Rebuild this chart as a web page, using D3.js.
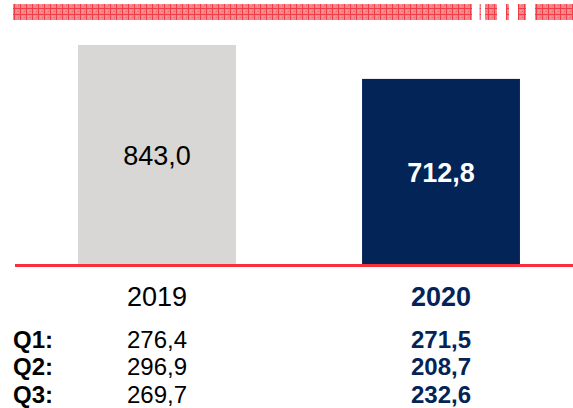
<!DOCTYPE html>
<html>
<head>
<meta charset="utf-8">
<script src="https://cdn.jsdelivr.net/npm/d3@7"></script>
<style>
  body { margin: 0; background: #fff; }
  svg { display: block; font-family: Arial, "Liberation Sans", sans-serif; }
</style>
</head>
<body>
<div id="chart"></div>
<script>
// chart data
const years = ["2019", "2020"];
const totals = [843.0, 712.8];
const quarters = ["Q1:", "Q2:", "Q3:"];
const q2019 = [276.4, 296.9, 269.7];
const q2020 = [271.5, 208.7, 232.6];

// decorative header band pieces (x start, x end)
const bandPieces = [[13, 472], [479.5, 481], [485, 497], [506, 509], [518, 526], [535, 573]];

const width = 573, height = 408;
const navy = "#022456";
const fmt = v => v.toFixed(1).replace(".", ",");

const svg = d3.select("#chart").append("svg")
    .attr("width", width)
    .attr("height", height);

// textured pattern for the top band
const defs = svg.append("defs");
const pat = defs.append("pattern")
    .attr("id", "hatch")
    .attr("patternUnits", "userSpaceOnUse")
    .attr("width", 6)
    .attr("height", 6);
pat.append("rect").attr("width", 6).attr("height", 6).attr("fill", "#f7858b");
pat.append("rect").attr("x", 2).attr("width", 1).attr("height", 6).attr("fill", "#f23c46");
pat.append("rect").attr("y", 2).attr("width", 6).attr("height", 1).attr("fill", "#f23c46");
pat.append("rect").attr("x", 4).attr("y", 4).attr("width", 1).attr("height", 1).attr("fill", "#fba6aa");
pat.append("rect").attr("x", 0).attr("y", 5).attr("width", 1).attr("height", 1).attr("fill", "#f4626a");

svg.append("g").selectAll("rect")
    .data(bandPieces)
    .join("rect")
    .attr("x", d => d[0])
    .attr("y", 4)
    .attr("width", d => d[1] - d[0])
    .attr("height", 16)
    .attr("fill", "url(#hatch)");

const baseY = 264.5;
const x = d3.scaleBand()
    .domain(years)
    .range([15, 583])
    .paddingInner(0.444)
    .paddingOuter(0.222);

const y = d3.scaleLinear()
    .domain([0, 843])
    .range([baseY, 45]);

const barColors = ["#d9d7d5", navy];
const data = years.map((yr, i) => ({ year: yr, value: totals[i], i }));

svg.append("g").selectAll("rect")
    .data(data)
    .join("rect")
    .attr("x", d => x(d.year))
    .attr("y", d => y(d.value))
    .attr("width", x.bandwidth())
    .attr("height", d => y(0) - y(d.value))
    .attr("fill", d => barColors[d.i]);

// value labels inside bars
svg.append("g").selectAll("text")
    .data(data)
    .join("text")
    .attr("x", d => x(d.year) + x.bandwidth() / 2)
    .attr("y", d => (y(d.value) + y(0)) / 2 + 10)
    .attr("text-anchor", "middle")
    .style("font-size", "27px")
    .style("font-weight", d => d.i === 1 ? "bold" : "normal")
    .style("fill", d => d.i === 1 ? "#fff" : "#000")
    .text(d => fmt(d.value));

// red baseline
svg.append("line")
    .attr("x1", 15).attr("x2", width)
    .attr("y1", 265.5).attr("y2", 265.5)
    .attr("stroke", "#f5303a")
    .attr("stroke-width", 3);

// year labels
svg.append("g").selectAll("text")
    .data(data)
    .join("text")
    .attr("x", d => x(d.year) + x.bandwidth() / 2)
    .attr("y", 305.5)
    .attr("text-anchor", "middle")
    .style("font-size", "27px")
    .style("font-weight", d => d.i === 1 ? "bold" : "normal")
    .style("fill", d => d.i === 1 ? navy : "#000")
    .text(d => d.year);

// quarterly table
const rowY = d3.scalePoint().domain(quarters).range([348, 402.5]);

svg.append("g").selectAll("text")
    .data(quarters)
    .join("text")
    .attr("x", 13)
    .attr("y", d => rowY(d))
    .style("font-size", "24px")
    .style("font-weight", "bold")
    .style("fill", "#000")
    .text(d => d);

[q2019, q2020].forEach((vals, i) => {
    svg.append("g").selectAll("text")
        .data(vals)
        .join("text")
        .attr("x", x(years[i]) + x.bandwidth() / 2)
        .attr("y", (d, j) => rowY(quarters[j]))
        .attr("text-anchor", "middle")
        .style("font-size", "24px")
        .style("font-weight", i === 1 ? "bold" : "normal")
        .style("fill", i === 1 ? navy : "#000")
        .text(d => fmt(d));
});
</script>
</body>
</html>
